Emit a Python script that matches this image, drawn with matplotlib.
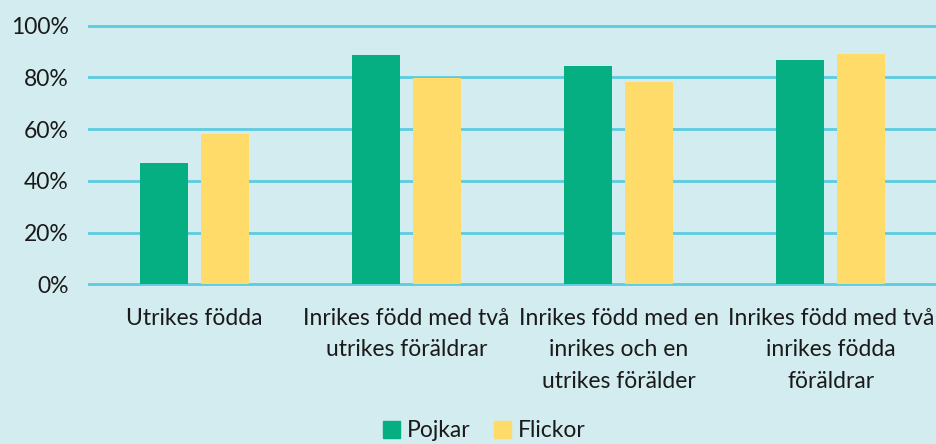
import numpy as np
import matplotlib

matplotlib.use("Agg")
import matplotlib.pyplot as plt
from matplotlib.patches import Patch

categories = [
    "Utrikes födda",
    "Inrikes född med två\nutrikes föräldrar",
    "Inrikes född med en\ninrikes och en\nutrikes förälder",
    "Inrikes född med två\ninrikes födda\nföräldrar",
]
pojkar = [47, 88.5, 84.3, 86.8]
flickor = [58, 79.6, 78.1, 89.2]
yticks = [0, 20, 40, 60, 80, 100]

bg = "#d3ecef"
green = "#05af82"
yellow = "#ffdc6a"
grid = "#5ecbe0"
text = "#1a1a1a"

plt.rcParams["font.family"] = ["Lato", "DejaVu Sans"]

fig = plt.figure(figsize=(9.37, 4.44), dpi=100, facecolor=bg)
ax = fig.add_axes([88 / 937, 158 / 444, 849 / 937, 262 / 444], facecolor=bg)

x = np.arange(len(categories))
width = 0.226
offset = 0.144
ax.bar(x - offset, pojkar, width, color=green, zorder=3)
ax.bar(x + offset, flickor, width, color=yellow, zorder=3)

ax.set_xlim(-0.5, len(categories) - 0.5)
ax.set_ylim(-0.6, 100.6)
ax.set_yticks(yticks)
ax.set_yticklabels([f"{v}%" for v in yticks], fontsize=16.5, color=text)
ax.set_xticks(x)
ax.set_xticklabels(categories, fontsize=16.5, color=text, linespacing=1.6)
ax.tick_params(axis="x", length=0, pad=16)
ax.tick_params(axis="y", length=0, pad=14)
ax.grid(axis="y", color=grid, linewidth=2, zorder=1)
for s in ax.spines.values():
    s.set_visible(False)

handles = [Patch(color=green, label="Pojkar"), Patch(color=yellow, label="Flickor")]
fig.legend(handles=handles, loc="center", bbox_to_anchor=(0.517, 0.03), ncol=2,
           frameon=False, fontsize=16.5, handlelength=0.75, handleheight=0.75,
           handletextpad=0.3, columnspacing=1.0, labelcolor=text,
           borderpad=0.0, borderaxespad=0.0)

fig.savefig("out.png", dpi=100, facecolor=bg)
